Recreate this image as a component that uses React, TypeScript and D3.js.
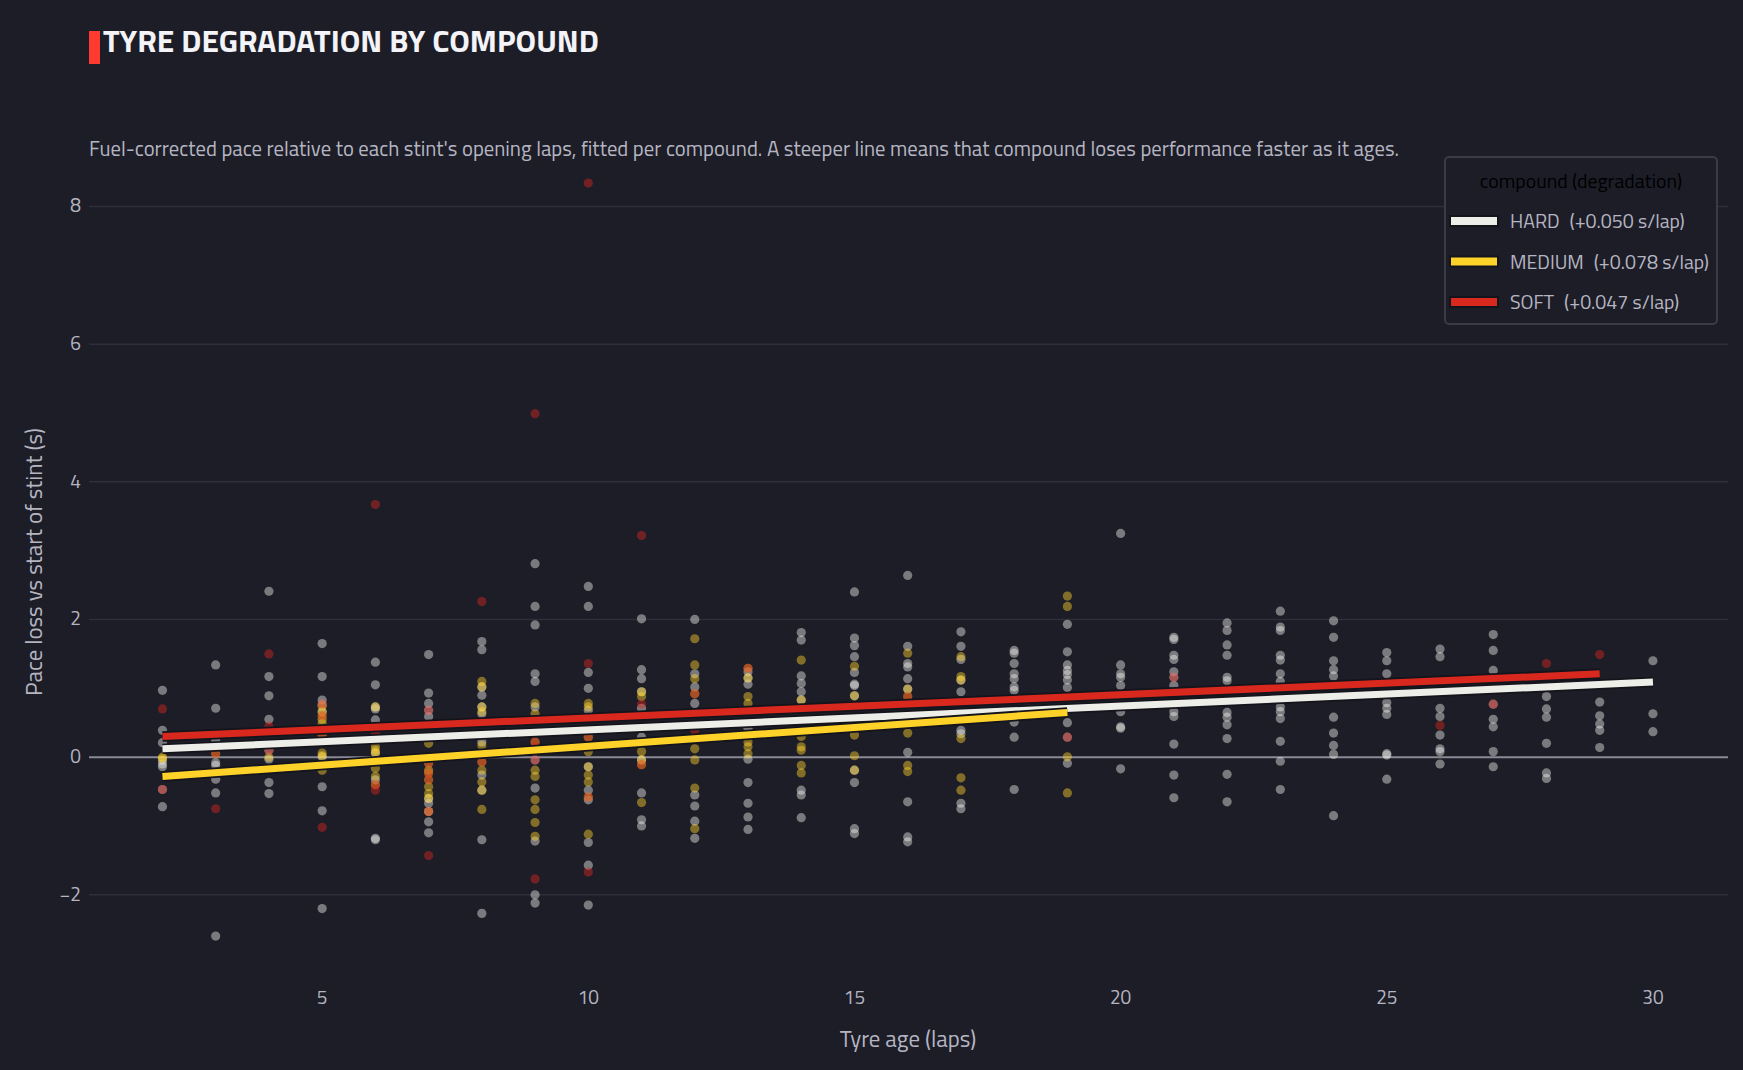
import React from "react";
import * as d3 from "d3";

// tyre age (laps) -> pace loss values, one row per lap
const hardPoints: [number, number[]][] = [
  [2, [0.97, 0.39, 0.21, -0.05, -0.1, -0.14, -0.47, -0.72]],
  [3, [1.34, 0.71, 0.25, -0.08, -0.12, -0.32, -0.52, -2.6]],
  [4, [2.41, 1.17, 0.89, 0.55, 0.1, -0.03, -0.37, -0.53]],
  [5, [1.65, 1.17, 0.83, 0.77, 0.66, 0.005, -0.43, -0.78, -2.2]],
  [6, [1.38, 1.05, 0.73, 0.7, 0.54, 0.06, -0.33, -1.18, -1.2]],
  [7, [1.49, 0.93, 0.78, 0.68, 0.59, -0.6, -0.67, -0.79, -0.94, -1.1]],
  [8, [1.68, 1.56, 1.02, 0.9, 0.73, 0.63, 0.22, -0.26, -0.48, -1.2, -2.27]],
  [9, [2.81, 2.19, 1.92, 1.21, 1.1, 0.73, -0.04, -0.45, -1.22, -2.0, -2.12]],
  [10, [2.48, 2.19, 1.23, 1.0, 0.68, -0.14, -0.48, -0.62, -1.24, -1.57, -2.15]],
  [11, [2.01, 1.27, 1.14, 0.95, 0.71, 0.29, -0.04, -0.52, -0.91, -1.0]],
  [12, [2.0, 1.21, 1.02, 0.78, -0.55, -0.71, -0.93, -1.18]],
  [13, [1.24, 1.15, 1.06, 0.42, -0.03, -0.37, -0.67, -0.87, -1.05]],
  [14, [1.81, 1.7, 1.18, 1.07, 0.95, 0.83, -0.48, -0.55, -0.88]],
  [15, [2.4, 1.73, 1.62, 1.46, 1.23, 1.06, 1.04, 0.89, -0.19, -0.37, -1.04, -1.11]],
  [16, [2.64, 1.61, 1.36, 1.31, 1.14, 0.99, 0.07, -0.65, -1.16, -1.23]],
  [17, [1.82, 1.61, 1.42, 1.12, 0.95, 0.39, 0.34, -0.67, -0.75]],
  [18, [1.55, 1.51, 1.36, 1.21, 1.14, 1.02, 0.97, 0.51, 0.29, -0.47]],
  [19, [1.93, 1.53, 1.34, 1.26, 1.2, 1.12, 1.01, 0.5, 0.29, -0.09]],
  [20, [3.25, 1.34, 1.21, 1.16, 1.04, 0.66, 0.44, 0.42, -0.17]],
  [21, [1.74, 1.71, 1.48, 1.42, 1.24, 1.16, 1.04, 0.66, 0.59, 0.19, -0.26, -0.59]],
  [22, [1.95, 1.84, 1.63, 1.48, 1.16, 1.11, 0.65, 0.58, 0.47, 0.27, -0.25, -0.65]],
  [23, [2.12, 1.89, 1.84, 1.48, 1.41, 1.21, 1.1, 0.73, 0.66, 0.56, 0.23, -0.06, -0.47]],
  [24, [1.98, 1.74, 1.4, 1.27, 1.18, 0.58, 0.35, 0.17, 0.04, -0.85]],
  [25, [1.52, 1.4, 1.21, 0.79, 0.71, 0.62, 0.05, 0.03, -0.32]],
  [26, [1.57, 1.46, 0.71, 0.59, 0.32, 0.12, 0.08, -0.1]],
  [27, [1.78, 1.55, 1.26, 0.77, 0.55, 0.44, 0.08, -0.14]],
  [28, [0.88, 0.7, 0.58, 0.2, -0.23, -0.31]],
  [29, [0.8, 0.6, 0.48, 0.39, 0.14]],
  [30, [1.4, 0.63, 0.37]],
];

const mediumPoints: [number, number[]][] = [
  [2, [0.0, -0.02]],
  [3, [0.05]],
  [4, [0.0]],
  [5, [0.74, 0.66, 0.6, 0.55, 0.49, 0.32, 0.06, 0.02, -0.19]],
  [6, [0.73, 0.15, 0.1, 0.06, -0.04, -0.16, -0.28, -0.4]],
  [7, [0.2, -0.09, -0.19, -0.23, -0.33, -0.43, -0.53, -0.6, -0.79]],
  [8, [1.1, 1.02, 0.73, 0.66, 0.17, -0.07, -0.19, -0.36, -0.48, -0.76]],
  [9, [0.78, 0.63, 0.22, -0.19, -0.28, -0.62, -0.76, -0.95, -1.15]],
  [10, [0.78, 0.73, 0.29, 0.08, -0.14, -0.26, -0.36, -0.58, -1.12]],
  [11, [0.95, 0.88, 0.08, -0.04, -0.11, -0.66]],
  [12, [1.72, 1.34, 1.14, 0.92, 0.12, -0.04, -0.45, -1.04]],
  [13, [1.29, 1.15, 0.88, 0.78, 0.22, 0.15, 0.05]],
  [14, [1.41, 0.83, 0.3, 0.15, 0.1, -0.12, -0.23]],
  [15, [1.32, 0.89, 0.32, 0.02, -0.19]],
  [16, [1.51, 0.99, 0.88, 0.35, -0.12, -0.21]],
  [17, [1.46, 1.17, 1.12, 0.27, -0.3, -0.48]],
  [19, [2.34, 2.19, 0.005, -0.52]],
];

const softPoints: [number, number[]][] = [
  [2, [0.7, -0.47]],
  [3, [0.05, -0.75]],
  [4, [1.5, 0.45, 0.1]],
  [5, [0.77, 0.6, 0.32, -1.02]],
  [6, [3.67, 0.34, -0.4, -0.48]],
  [7, [0.68, -0.09, -0.23, -0.33, -0.79, -1.43]],
  [8, [2.26, -0.07]],
  [9, [4.99, 0.22, 0.15, -0.04, -1.77]],
  [10, [8.34, 1.36, 0.29, -0.58, -1.67]],
  [11, [3.22, 0.77, -0.11]],
  [12, [0.92, 0.39]],
  [13, [1.29]],
  [16, [0.88]],
  [19, [0.29]],
  [21, [1.16]],
  [26, [0.46]],
  [27, [0.77]],
  [28, [1.36]],
  [29, [1.49]],
];

// fitted lines: [lap, value] at each end
const hardFit: [number, number][] = [[2, 0.12], [30, 1.09]];
const mediumFit: [number, number][] = [[2, -0.28], [19, 0.65]];
const softFit: [number, number][] = [[2, 0.3], [29, 1.21]];

const compounds = ["HARD", "MEDIUM", "SOFT"];
const slopes = ["+0.050", "+0.078", "+0.047"];
const colors = ["#eeeee8", "#ffd22a", "#d9281e"];

const yTicks = [-2, 0, 2, 4, 6, 8];
const xTicks = [5, 10, 15, 20, 25, 30];

const W = 1743;
const H = 1070;
const FONT = "'Titillium Web', 'Liberation Sans Narrow', 'DejaVu Sans Condensed', 'Roboto', sans-serif";
const BG = "#1d1d27";
const TXT = "#b5b5c2";

const App = () => {
  const x = d3.scaleLinear().domain([0.62, 31.41]).range([89, 1728]);
  const y = d3.scaleLinear().domain([-3.02, 8.53]).range([965, 170]);
  const line = d3
    .line<[number, number]>()
    .x((d) => x(d[0]))
    .y((d) => y(d[1]));

  const groups = [hardPoints, mediumPoints, softPoints];
  const fits = [hardFit, mediumFit, softFit];
  const fmtY = (v: number) => (v < 0 ? "\u2212" + Math.abs(v) : String(v));

  return (
    <svg
      width={W}
      height={H}
      style={{ position: "fixed", left: 0, top: 0, background: BG }}
      fontFamily={FONT}
    >
      <rect width={W} height={H} fill={BG} />

      {/* title */}
      <rect x={89} y={31} width={11} height={33} fill="#ff3b2f" />
      <text x={103} y={52} fontSize={31.6} fontWeight={700} fill="#f3f3f8">
        TYRE DEGRADATION BY COMPOUND
      </text>
      <text x={89} y={156} fontSize={20.7} fill={TXT}>
        Fuel-corrected pace relative to each stint's opening laps, fitted per compound. A steeper line means that compound loses performance faster as it ages.
      </text>

      {/* grid */}
      {yTicks.map((t) => (
        <g key={t}>
          <line
            x1={89}
            x2={1728}
            y1={y(t)}
            y2={y(t)}
            stroke={t === 0 ? "#8a8a96" : "#2e2f3b"}
            strokeWidth={t === 0 ? 2 : 1.5}
          />
          <text x={81} y={y(t) + 6} textAnchor="end" fontSize={19} fill={TXT}>
            {fmtY(t)}
          </text>
        </g>
      ))}
      {xTicks.map((t) => (
        <text key={t} x={x(t)} y={1004} textAnchor="middle" fontSize={19} fill={TXT}>
          {t}
        </text>
      ))}

      <text x={908} y={1047} textAnchor="middle" fontSize={22.8} fill={TXT}>
        Tyre age (laps)
      </text>
      <text
        transform={`translate(42, 562) rotate(-90)`}
        textAnchor="middle"
        fontSize={22.8}
        fill={TXT}
      >
        Pace loss vs start of stint (s)
      </text>

      {/* points */}
      {groups.map((g, gi) => (
        <g key={gi} fill={colors[gi]} fillOpacity={0.45}>
          {g.flatMap(([lap, vals]) =>
            vals.map((v, i) => <circle key={lap + "-" + i} cx={x(lap)} cy={y(v)} r={4.6} />)
          )}
        </g>
      ))}

      {/* fitted lines */}
      {fits.map((f, i) => (
        <g key={i}>
          <path d={line(f) ?? ""} stroke="#14141c" strokeWidth={10.5} fill="none" />
          <path d={line(f) ?? ""} stroke={colors[i]} strokeWidth={7} fill="none" />
        </g>
      ))}

      {/* legend */}
      <rect x={1445} y={157} width={272} height={167} rx={4} fill={BG} stroke="#3a3b47" strokeWidth={2} />
      <text x={1581} y={188} textAnchor="middle" fontSize={19.8} fill="#000">
        compound (degradation)
      </text>
      {compounds.map((c, i) => (
        <g key={c} transform={`translate(0, ${221 + i * 40.5})`}>
          <rect x={1450} y={-5} width={48} height={10} fill={colors[i]} stroke="#14141c" strokeWidth={2} />
          <text x={1510} y={7} fontSize={19.6} fill={TXT}>
            {c}{"\u2002"}({slopes[i]} s/lap)
          </text>
        </g>
      ))}
    </svg>
  );
};

export default App;
